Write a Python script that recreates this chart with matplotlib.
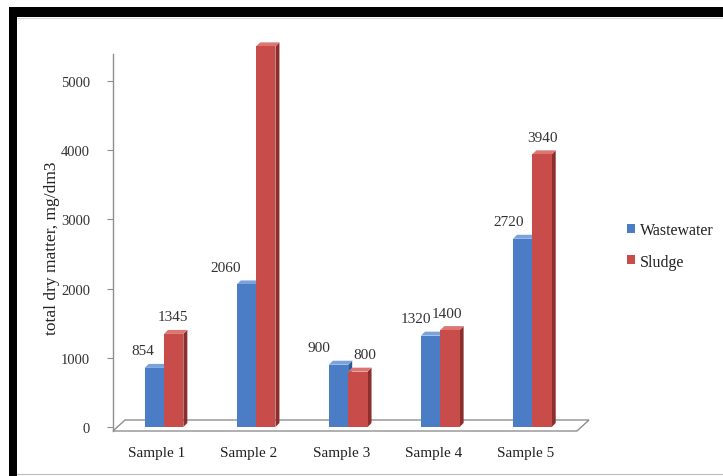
import matplotlib
matplotlib.use("Agg")
import matplotlib.pyplot as plt
from matplotlib.patches import Polygon, Rectangle, Patch
from matplotlib.lines import Line2D
import numpy as np

# ---- data -------------------------------------------------------------
categories = ["Sample 1", "Sample 2", "Sample 3", "Sample 4", "Sample 5"]
wastewater = [854, 2060, 900, 1320, 2720]
sludge = [1345, 5500, 800, 1400, 3940]
series_names = ["Wastewater", "Sludge"]
y_ticks = [0, 1000, 2000, 3000, 4000, 5000]
y_label = "total dry matter, mg/dm3"

# horizontal nudges (pixels) of the value labels so they don't collide
wastewater_label_dx = [-12, -21, -20, -15, -14]
sludge_label_dx = [-1, 0, 7, -3, 0]

# ---- style ------------------------------------------------------------
FONT = ["Liberation Serif", "DejaVu Serif"]
plt.rcParams["font.family"] = FONT
TEXT = "#333333"
GRID = "#8f8f8f"
BLUE = dict(front="#4a7dc5", top="#7aa3dc", side="#2f5a98")
RED = dict(front="#c84c49", top="#dc7673", side="#8c2e2c")

W, H = 723, 477
fig = plt.figure(figsize=(W / 100, H / 100), dpi=100)
fig.patch.set_facecolor("white")


def fx(px):
    return px / W


def fy(py):
    return 1 - py / H


# plot area: value 0 sits at y=428 px, top of the value axis at y=55 px
ax = fig.add_axes([fx(113), fy(428), fx(589) - fx(113), fy(55) - fy(428)])
ax.set_xlim(-0.554, 4.615)
ax.set_ylim(0, 5390)
ax.patch.set_alpha(0)

# pixels per data unit, used for the pseudo-3D depth
sx = ax.bbox.width / (ax.get_xlim()[1] - ax.get_xlim()[0])
sy = ax.bbox.height / (ax.get_ylim()[1] - ax.get_ylim()[0])

# floor of the 3D box
x0, x1 = ax.get_xlim()
fdx, fdy = 12 / sx, 11 / sy
front_y = -4 / sy
floor = Polygon(
    [(x0, front_y), (x1 - fdx, front_y), (x1, front_y + fdy), (x0 + fdx, front_y + fdy)],
    closed=True, facecolor="white", edgecolor=GRID, lw=1.0, clip_on=False, zorder=1,
)
ax.add_patch(floor)

# bars with a small depth
bw = 0.21
ddx, ddy = 4 / sx, 4 / sy
xpos = np.arange(len(categories))


def bar3d(left, value, colors, z):
    right = left + bw
    side = Polygon([(right, 0), (right, value), (right + ddx, value + ddy), (right + ddx, ddy)],
                   closed=True, facecolor=colors["side"], edgecolor="none",
                   clip_on=False, zorder=z)
    top = Polygon([(left, value), (left + ddx, value + ddy), (right + ddx, value + ddy), (right, value)],
                  closed=True, facecolor=colors["top"], edgecolor="none",
                  clip_on=False, zorder=z)
    ax.add_patch(side)
    ax.add_patch(top)


for i, v in enumerate(wastewater):
    bar3d(xpos[i] - bw, v, BLUE, 2)
ax.bar(xpos - bw, wastewater, width=bw, align="edge", color=BLUE["front"],
       zorder=2.1, clip_on=False, label=series_names[0])
for i, v in enumerate(sludge):
    bar3d(xpos[i], v, RED, 3)
ax.bar(xpos, sludge, width=bw, align="edge", color=RED["front"],
       zorder=3.1, clip_on=False, label=series_names[1])

# value labels
for i, v in enumerate(wastewater):
    ax.annotate(str(v), xy=(xpos[i] - bw / 2, v), xytext=(wastewater_label_dx[i], 17),
                textcoords="offset pixels", ha="center", va="center",
                fontsize=11, color=TEXT, zorder=5)
for i, v in enumerate(sludge):
    ax.annotate(str(v), xy=(xpos[i] + bw / 2, v), xytext=(sludge_label_dx[i], 17),
                textcoords="offset pixels", ha="center", va="center",
                fontsize=11, color=TEXT, zorder=5)

# axes
for s in ["top", "right", "bottom"]:
    ax.spines[s].set_visible(False)
ax.spines["left"].set_color(GRID)
ax.spines["left"].set_linewidth(1.0)
ax.spines["left"].set_bounds(-4 / sy, 5390)

ax.set_yticks(y_ticks)
ax.set_yticklabels([str(t) for t in y_ticks])
ax.tick_params(axis="y", length=4.5, width=0.8, color=GRID, pad=12,
               labelsize=10.5, labelcolor=TEXT)

ax.set_xticks(xpos - 7 / sx)
ax.set_xticklabels(categories)
ax.tick_params(axis="x", length=0, pad=13.5, labelsize=11, labelcolor="#222222")

ax.set_ylabel(y_label, fontsize=12.5, color="#222222")
ax.yaxis.label.set_va("center")
ax.yaxis.set_label_coords((52 - 113) / ax.bbox.width, (428 - 248) / ax.bbox.height)

# legend
handles = [Patch(facecolor=BLUE["front"]), Patch(facecolor=RED["front"])]
ax.legend(handles, series_names, loc="center left",
          bbox_to_anchor=(fx(619), fy(247)), bbox_transform=fig.transFigure,
          frameon=False, fontsize=11.5, handlelength=0.5, handleheight=0.5,
          handletextpad=0.3, labelspacing=0.95, borderpad=0, labelcolor="#222222")

# black frame around the chart
fig.add_artist(Rectangle((fx(9), fy(18)), 1 - fx(9), 10 / H, transform=fig.transFigure,
                         facecolor="black", edgecolor="none"))
fig.add_artist(Rectangle((fx(9), 0), 8 / W, fy(8), transform=fig.transFigure,
                         facecolor="black", edgecolor="none"))
fig.add_artist(Line2D([fx(17), 1], [fy(19), fy(19)], transform=fig.transFigure,
                      color="#d8d8d8", lw=0.8))
fig.add_artist(Line2D([fx(17), 1], [fy(475), fy(475)], transform=fig.transFigure,
                      color="#bdbdbd", lw=0.8))

fig.savefig("out.png", dpi=100)
